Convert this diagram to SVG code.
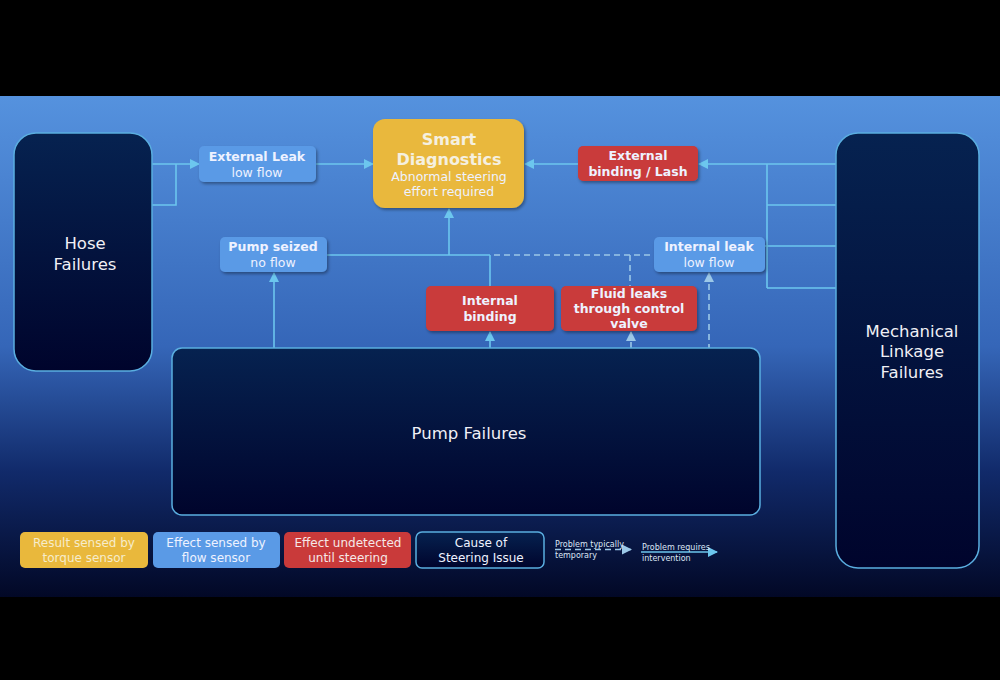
<svg xmlns="http://www.w3.org/2000/svg" width="1000" height="680" viewBox="0 0 1000 680">
<defs>
<linearGradient id="bg" x1="0" y1="0" x2="0" y2="1">
<stop offset="0" stop-color="#5592de"/>
<stop offset="0.5" stop-color="#3566b8"/>
<stop offset="0.75" stop-color="#112a6a"/>
<stop offset="1" stop-color="#020826"/>
</linearGradient>
<linearGradient id="dark" x1="0" y1="0" x2="0" y2="1">
<stop offset="0" stop-color="#062250"/>
<stop offset="1" stop-color="#00042c"/>
</linearGradient>
<filter id="sh" x="-10%" y="-10%" width="130%" height="140%">
<feDropShadow dx="1.5" dy="2" stdDeviation="1.5" flood-color="#000" flood-opacity="0.35"/>
</filter>
<marker id="ar" viewBox="0 0 10 10" refX="9" refY="5" markerWidth="10" markerHeight="10" markerUnits="userSpaceOnUse" orient="auto">
<path d="M0,0 L10,5 L0,10 z" fill="#6cc6ee"/>
</marker>
<marker id="ar2" viewBox="0 0 10 10" refX="9" refY="5" markerWidth="10" markerHeight="10" markerUnits="userSpaceOnUse" orient="auto">
<path d="M0,0 L10,5 L0,10 z" fill="#9cc8e8"/>
</marker>
</defs>
<style>
.cause{fill:url(#dark);stroke:#5aaee0;stroke-width:1.5}
.blue{fill:#5a9ae6;filter:url(#sh)}
.red{fill:#c93a3a;filter:url(#sh)}
.yel{fill:#e9b83c;filter:url(#sh)}
.t{font-family:"DejaVu Sans",Verdana,sans-serif;text-anchor:middle}
.b{font-weight:bold;font-size:12.5px;fill:#eef2ff}
.r{font-size:12.5px;fill:#eef2ff}
.big{font-size:16.5px;fill:#f0f0f5}
.c{fill:none;stroke:#6cc6ee;stroke-width:1.6}
.d{fill:none;stroke:#9cc8e8;stroke-width:1.6;stroke-dasharray:6 4}
.lg{font-size:12px}
.sm{font-family:"DejaVu Sans",Verdana,sans-serif;font-size:8px;fill:#dce6f5}
</style>
<rect x="0" y="0" width="1000" height="680" fill="#000"/>
<rect x="0" y="96" width="1000" height="501" fill="url(#bg)"/>

<g id="connectors">
<path class="c" d="M152,164 H199" marker-end="url(#ar)"/>
<path class="c" d="M152,205 H176 V164"/>
<path class="c" d="M316,164 H373" marker-end="url(#ar)"/>
<path class="c" d="M836,164 H699" marker-end="url(#ar)"/>
<path class="c" d="M578,164 H525" marker-end="url(#ar)"/>
<path class="c" d="M767,164 V288 M767,205 H836 M767,246 H836 M767,288 H836 M765,246 H767"/>
<path class="c" d="M327,255 H490 M449,255 V209" marker-end="url(#ar)"/>
<path class="c" d="M490,286 V255"/>
<path class="d" d="M494,255 H654 M630,255 V286"/>
<path class="c" d="M274,348 V273" marker-end="url(#ar)"/>
<path class="c" d="M490,348 V332" marker-end="url(#ar)"/>
<path class="d" d="M631,348 V332" marker-end="url(#ar2)"/>
<path class="d" d="M709,350 V273" marker-end="url(#ar2)"/>
</g>

<g id="hose">
<rect class="cause" x="14" y="133" width="138" height="238" rx="22"/>
<text class="t big" x="85" y="249">Hose</text>
<text class="t big" x="85" y="270">Failures</text>
</g>
<g id="mech">
<rect class="cause" x="836" y="133" width="143" height="435" rx="22"/>
<text class="t big" x="912" y="337">Mechanical</text>
<text class="t big" x="912" y="357">Linkage</text>
<text class="t big" x="912" y="378">Failures</text>
</g>
<g id="pump">
<rect class="cause" x="172" y="348" width="588" height="167" rx="10"/>
<text class="t big" x="469" y="439">Pump Failures</text>
</g>
<g id="extleak">
<rect class="blue" x="199" y="146" width="117" height="36" rx="5"/>
<text class="t b" x="257" y="161">External Leak</text>
<text class="t r" x="257" y="177">low flow</text>
</g>
<g id="smart">
<rect class="yel" x="373" y="119" width="151" height="89" rx="12"/>
<text class="t" x="449" y="145" font-weight="bold" font-size="16" fill="#f5f0e0">Smart</text>
<text class="t" x="449" y="165" font-weight="bold" font-size="16" fill="#f5f0e0">Diagnostics</text>
<text class="t r" x="449" y="181" fill="#f8f0d8">Abnormal steering</text>
<text class="t r" x="449" y="196" fill="#f8f0d8">effort required</text>
</g>
<g id="extbind">
<rect class="red" x="578" y="146" width="120" height="35" rx="5"/>
<text class="t b" x="638" y="160">External</text>
<text class="t b" x="638" y="176">binding / Lash</text>
</g>
<g id="pumpseized">
<rect class="blue" x="220" y="237" width="107" height="35" rx="5"/>
<text class="t b" x="273" y="251">Pump seized</text>
<text class="t r" x="273" y="267">no flow</text>
</g>
<g id="intleak">
<rect class="blue" x="654" y="237" width="111" height="35" rx="5"/>
<text class="t b" x="709" y="251">Internal leak</text>
<text class="t r" x="709" y="267">low flow</text>
</g>
<g id="intbind">
<rect class="red" x="426" y="286" width="128" height="45" rx="5"/>
<text class="t b" x="490" y="305">Internal</text>
<text class="t b" x="490" y="321">binding</text>
</g>
<g id="fluid">
<rect class="red" x="561" y="286" width="136" height="45" rx="5"/>
<text class="t b" x="629" y="298">Fluid leaks</text>
<text class="t b" x="629" y="313">through control</text>
<text class="t b" x="629" y="328">valve</text>
</g>

<g id="legend">
<rect x="20" y="532" width="128" height="36" rx="5" fill="#e9b83c"/>
<text class="t lg" x="84" y="547" fill="#f6eccb">Result sensed by</text>
<text class="t lg" x="84" y="562" fill="#f6eccb">torque sensor</text>
<rect x="153" y="532" width="127" height="36" rx="5" fill="#5a9ae6"/>
<text class="t lg" x="216" y="547" fill="#eef2ff">Effect sensed by</text>
<text class="t lg" x="216" y="562" fill="#eef2ff">flow sensor</text>
<rect x="284" y="532" width="127" height="36" rx="5" fill="#c93a3a"/>
<text class="t lg" x="348" y="547" fill="#f5e8e8">Effect undetected</text>
<text class="t lg" x="348" y="562" fill="#f5e8e8">until steering</text>
<rect class="cause" x="416" y="532" width="128" height="36" rx="6"/>
<text class="t lg" x="481" y="547" fill="#eef2ff">Cause of</text>
<text class="t lg" x="481" y="562" fill="#eef2ff">Steering Issue</text>
<path class="d" d="M555,549.5 H631" stroke-dasharray="5 3" marker-end="url(#ar2)"/>
<text class="sm" x="555" y="547">Problem typically</text>
<text class="sm" x="555" y="558">temporary</text>
<path class="c" d="M641,552 H717" marker-end="url(#ar)"/>
<text class="sm" x="642" y="550">Problem requires</text>
<text class="sm" x="642" y="561">intervention</text>
</g>
</svg>
